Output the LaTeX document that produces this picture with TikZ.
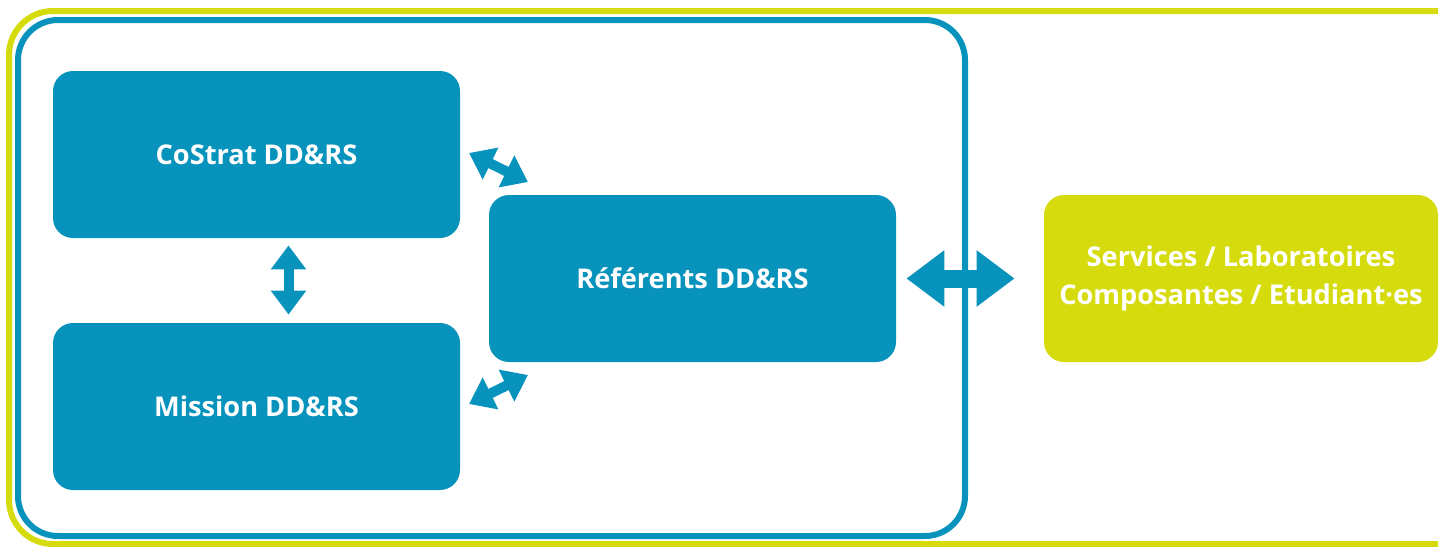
\documentclass[tikz,border=0pt]{standalone}
\usepackage{fontspec}
\setmainfont{Open Sans}
\usetikzlibrary{arrows.meta}
\definecolor{ddblue}{RGB}{8,147,188}
\definecolor{ddlime}{RGB}{214,219,14}

\begin{document}
\begin{tikzpicture}[x=0.5pt,y=-0.5pt,
    box/.style={rectangle,rounded corners=10pt,fill=ddblue,text=white,align=center,inner sep=0pt,
      minimum width=203.5pt,minimum height=83.5pt,font=\bfseries\fontsize{13.6}{19}\selectfont},
    link/.style={ddblue,line width=5pt,{Triangle[width=17pt,length=12pt]}-{Triangle[width=17pt,length=12pt]}},
    biglink/.style={ddblue,line width=9pt,{Triangle[width=27pt,length=19pt]}-{Triangle[width=27pt,length=19pt]}}]
        \useasboundingbox (0,0) rectangle (1448,547);
        \draw[ddlime,line width=3pt,rounded corners=22pt] (1438,11) -- (9,11) -- (9,544) -- (1438,544);
        \draw[ddblue,line width=3pt,rounded corners=20pt] (18,20) rectangle (965,536);
        \node[box](costrat)at(256.5,154.5){CoStrat DD\&RS};
        \node[box](mission)at(256.5,406.5){Mission DD\&RS};
        \node[box](ref)at(692.5,278.5){Référents DD\&RS};
        \node[box,fill=ddlime,minimum width=197pt](services)at(1241,278.5){Services / Laboratoires\\Composantes / Etudiant·es};
        \coordinate (c1) at (469,153);
        \coordinate (c2) at (528,182);
        \coordinate (m1) at (469,404);
        \coordinate (m2) at (528,375);
        \draw[link] (c1) -- (c2);
        \draw[link] (m1) -- (m2);
        \draw[link,shorten <=3.5pt,shorten >=4pt] ([xshift=16pt]costrat.south) -- ([xshift=16pt]mission.north);
        \draw[biglink,shorten <=5pt,shorten >=14.5pt] (ref) -- (services);
    \end{tikzpicture}
\end{document}
